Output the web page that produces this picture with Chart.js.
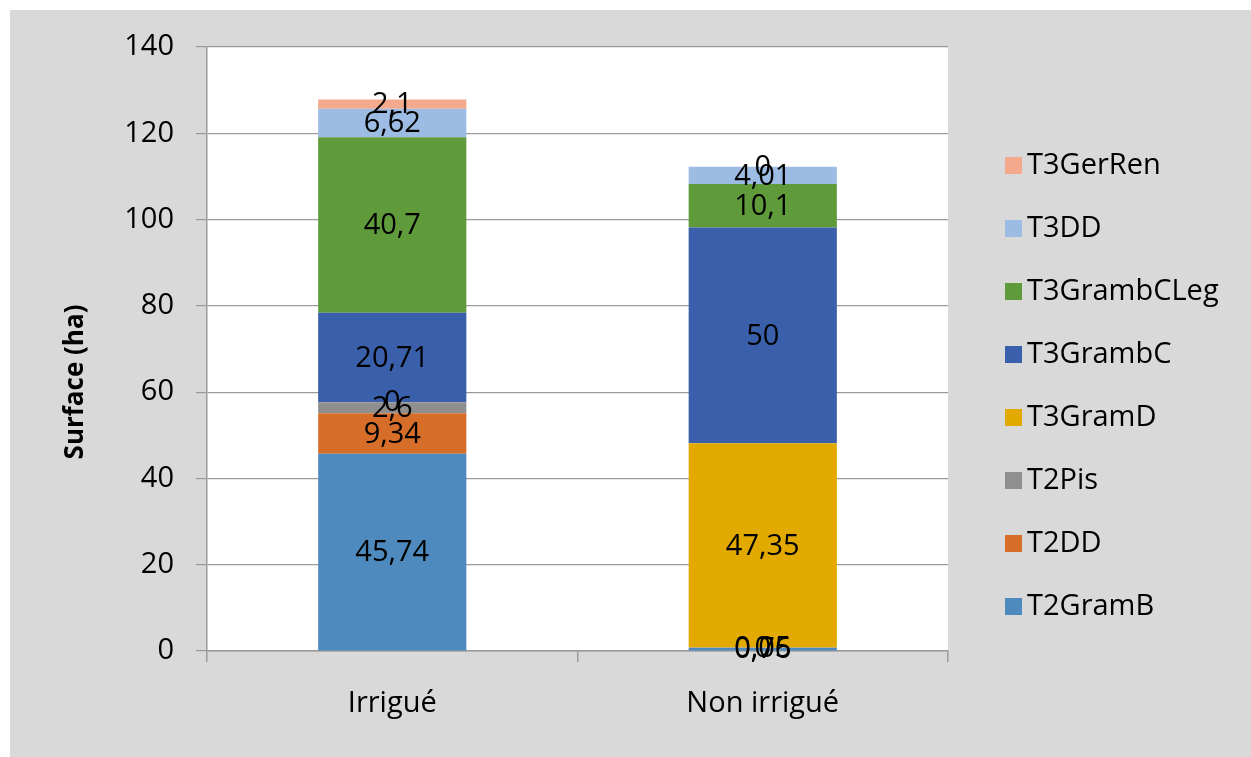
<!DOCTYPE html>
<html>
<head>
<meta charset="utf-8">
<script src="https://cdn.jsdelivr.net/npm/chart.js@4"></script>
<style>
  html, body { margin: 0; padding: 0; background: #fff; }
  #wrap { width: 1251px; height: 757px; }
</style>
</head>
<body>
<div id="wrap"><canvas id="chart" width="1251" height="757"></canvas></div>
<script>
const categories = ["Irrigué", "Non irrigué"];

const seriesNames = ["T2GramB", "T2DD", "T2Pis", "T3GramD", "T3GrambC", "T3GrambCLeg", "T3DD", "T3GerRen"];
const T2GramB = [45.74, 0.76];
const T2DD = [9.34, 0.05];
const T2Pis = [2.6, 0];
const T3GramD = [0, 47.35];
const T3GrambC = [20.71, 50];
const T3GrambCLeg = [40.7, 10.1];
const T3DD = [6.62, 4.01];
const T3GerRen = [2.1, 0];

const yMax = 140;
const yStep = 20;

const colors = ["#4f8abe", "#d66e2a", "#8f8f8f", "#e2aa00", "#3a60ab", "#5f9a3b", "#9cbce3", "#f3a98b"];
const values = [T2GramB, T2DD, T2Pis, T3GramD, T3GrambC, T3GrambCLeg, T3DD, T3GerRen];

const FONT = "'Open Sans', sans-serif";

const data = {
  labels: categories,
  datasets: seriesNames.map((name, i) => ({
    label: name,
    backgroundColor: colors[i],
    data: values[i],
    barPercentage: 0.4,
    categoryPercentage: 1,
  })),
};

// gray frame + white plot area
const background = {
  id: "background",
  beforeDraw(chart) {
    const ctx = chart.ctx;
    const a = chart.chartArea;
    ctx.save();
    ctx.fillStyle = "#d9d9d9";
    ctx.fillRect(10, 10, chart.width - 10, chart.height - 10);
    ctx.fillStyle = "#ffffff";
    ctx.fillRect(a.left, a.top, a.right - a.left, a.bottom - a.top);
    ctx.restore();
  },
};

// value labels in the middle of each segment
const valueLabels = {
  id: "valueLabels",
  afterDatasetsDraw(chart) {
    const ctx = chart.ctx;
    ctx.save();
    ctx.font = "29px " + FONT;
    ctx.fillStyle = "#000";
    ctx.textAlign = "center";
    ctx.textBaseline = "middle";
    chart.data.datasets.forEach((ds, i) => {
      const meta = chart.getDatasetMeta(i);
      meta.data.forEach((bar, j) => {
        const p = bar.getProps(["x", "y", "base"], true);
        const txt = String(ds.data[j]).replace(".", ",");
        ctx.fillText(txt, p.x, (p.y + p.base) / 2 + 1);
      });
    });
    ctx.restore();
  },
};

// legend on the right (reversed) and y-axis title
const sideText = {
  id: "sideText",
  afterDraw(chart) {
    const ctx = chart.ctx;
    const ds = chart.data.datasets;
    ctx.save();
    ctx.font = "29px " + FONT;
    ctx.textBaseline = "middle";
    ctx.textAlign = "left";
    for (let k = 0; k < ds.length; k++) {
      const d = ds[ds.length - 1 - k];
      const y = 165 + k * 63;
      ctx.fillStyle = d.backgroundColor;
      ctx.fillRect(1005, y - 8, 17, 17);
      ctx.fillStyle = "#000";
      ctx.fillText(d.label, 1027, y + 1);
    }
    ctx.translate(76, 382);
    ctx.rotate(-Math.PI / 2);
    ctx.font = "bold 26px " + FONT;
    ctx.textAlign = "center";
    ctx.fillText("Surface (ha)", 0, 0);
    ctx.restore();
  },
};

const config = {
  type: "bar",
  data: data,
  plugins: [background, valueLabels, sideText],
  options: {
    responsive: false,
    animation: false,
    layout: { padding: { top: 47, right: 303, left: 0, bottom: 0 } },
    plugins: {
      legend: { display: false },
      tooltip: { enabled: false },
    },
    scales: {
      x: {
        stacked: true,
        afterFit(scale) { scale.height = 106; },
        border: { color: "#9a9a9a", width: 1.5 },
        grid: { offset: true, drawOnChartArea: false, tickLength: 11, color: "#9a9a9a", lineWidth: 1.5 },
        ticks: { padding: 24, color: "#000", font: { family: FONT, size: 29 } },
      },
      y: {
        stacked: true,
        min: 0,
        max: yMax,
        afterFit(scale) { scale.width = 207; },
        border: { color: "#9a9a9a", width: 1.5 },
        grid: { color: "#9a9a9a", lineWidth: 1.2, tickLength: 11 },
        ticks: { stepSize: yStep, padding: 22, color: "#000", font: { family: FONT, size: 29 } },
      },
    },
  },
};

const myChart = new Chart(document.getElementById("chart"), config);
</script>
</body>
</html>
